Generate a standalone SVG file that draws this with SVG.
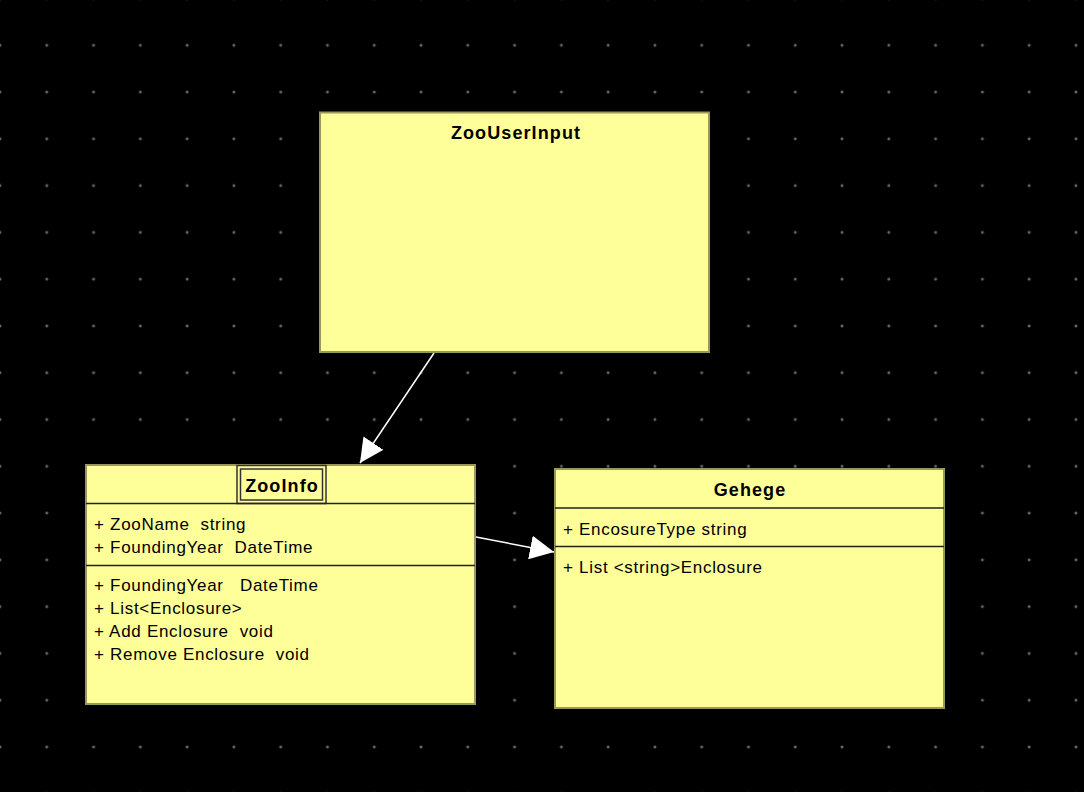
<svg xmlns="http://www.w3.org/2000/svg" width="1084" height="792" viewBox="0 0 1084 792">
<style>
.box{fill:#ffff99;stroke:#99995e;stroke-width:2}
.sep{stroke:#222;stroke-width:1.5}
.title{font-family:"Liberation Sans",Arial,sans-serif;font-size:18px;letter-spacing:1.1px;font-weight:bold;fill:#000;text-anchor:middle}
.txt{font-family:"Liberation Sans",Arial,sans-serif;font-size:17px;letter-spacing:0.7px;fill:#000;white-space:pre}
.conn{stroke:#fff;stroke-width:1.5;fill:none}
</style>
<defs>
<pattern id="grid" x="-2" y="43.3" width="46.78" height="46.78" patternUnits="userSpaceOnUse">
<path d="M0.5 2 H3.5 M2 0.5 V3.5" stroke="#8a8a8a" stroke-width="1"/>
</pattern>
<marker id="arr" viewBox="0 0 10 10" refX="10" refY="5" markerWidth="24" markerHeight="24" markerUnits="userSpaceOnUse" orient="auto">
<path d="M0 0 L10 5 L0 10 Z" fill="#fff"/>
</marker>
</defs>
<rect width="1084" height="792" fill="#000"/>
<rect width="1084" height="792" fill="url(#grid)"/>
<g id="connectors">
<line class="conn" x1="434" y1="353" x2="360" y2="463" marker-end="url(#arr)"/>
<line class="conn" x1="476" y1="537" x2="554" y2="552" marker-end="url(#arr)"/>
</g>
<g id="ZooUserInput">
<rect class="box" x="320" y="112.5" width="389" height="239.5"/>
<text class="title" x="516" y="139">ZooUserInput</text>
</g>
<g id="ZooInfo">
<rect class="box" x="86" y="465" width="389" height="239"/>
<rect x="237" y="465.5" width="89" height="38" fill="#ffff99" stroke="#333" stroke-width="1.5"/>
<rect x="240.5" y="469" width="82" height="31" fill="none" stroke="#333" stroke-width="1.5"/>
<text class="title" x="282" y="492">ZooInfo</text>
<line class="sep" x1="86" y1="503.5" x2="475" y2="503.5"/>
<line class="sep" x1="86" y1="565.5" x2="475" y2="565.5"/>
<text class="txt" x="94" y="530">+ ZooName  string</text>
<text class="txt" x="94" y="553">+ FoundingYear  DateTime</text>
<text class="txt" x="94" y="591">+ FoundingYear   DateTime</text>
<text class="txt" x="94" y="614">+ List&lt;Enclosure&gt;</text>
<text class="txt" x="94" y="637">+ Add Enclosure  void</text>
<text class="txt" x="94" y="660">+ Remove Enclosure  void</text>
</g>
<g id="Gehege">
<rect class="box" x="555" y="469" width="389" height="239"/>
<text class="title" x="750" y="496">Gehege</text>
<line class="sep" x1="555" y1="508" x2="944" y2="508"/>
<line class="sep" x1="555" y1="546.5" x2="944" y2="546.5"/>
<text class="txt" x="563" y="535">+ EncosureType string</text>
<text class="txt" x="563" y="573">+ List &lt;string&gt;Enclosure</text>
</g>
</svg>
